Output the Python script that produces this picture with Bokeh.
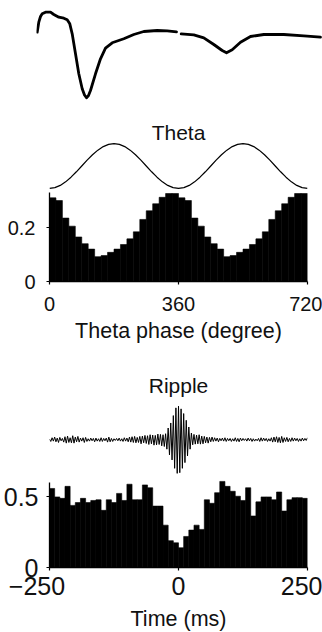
import numpy as np
from bokeh.plotting import figure
from bokeh.layouts import column
from bokeh.models import FixedTicker, Label, Range1d, Title
from bokeh.embed import file_html
from bokeh.resources import INLINE

FONT = "Liberation Sans"
INK = "#111111"

# ---------------- data ----------------
# average spike waveform, two segments (sample units, amplitude a.u.)
spike_a_x = [0.7, 2.3, 4.0, 5.7, 9.0, 14.0, 17.3, 22.3, 27.3, 30.7, 33.3, 35.7, 39.0,
             42.3, 45.7, 48.0, 50.0, 52.0, 54.0, 59.0, 64.0, 69.0, 75.7, 87.3, 97.3,
             107.3, 120.7, 130.7, 140.0]
spike_a_y = [-1.7, 8.3, 14.0, 16.7, 18.3, 18.3, 16.0, 13.3, 12.3, 10.7, 6.7, -3.3, -23.3,
             -43.3, -58.3, -64.5, -67.3, -65.0, -60.0, -43.3, -28.3, -17.7, -12.3, -8.3, -4.0,
             -1.0, 0.0, -0.3, -1.3]
spike_b_x = [144.7, 157.3, 167.3, 177.3, 185.7, 190.0, 195.7, 204.0, 214.0, 227.3, 247.3,
             267.3, 284.0]
spike_b_y = [-3.3, -4.3, -7.3, -14.0, -20.0, -22.3, -19.3, -11.7, -6.0, -4.0, -4.0,
             -5.3, -6.7]

# theta phase histogram (18-degree bins, one cycle, shown twice)
theta_bin_width = 18
theta_cycle_counts = [0.31, 0.30, 0.235, 0.205, 0.165, 0.14, 0.12, 0.092, 0.096, 0.108,
                      0.12, 0.137, 0.158, 0.184, 0.23, 0.262, 0.288, 0.312, 0.326, 0.326]
# schematic theta cycle, sampled every 15 degrees (one cycle, shown twice)
theta_wave_step = 15
theta_wave_cycle = [-1.0, -0.966, -0.866, -0.707, -0.5, -0.259, 0.0, 0.259, 0.5, 0.707,
                    0.866, 0.966, 1.0, 0.966, 0.866, 0.707, 0.5, 0.259, 0.0, -0.259,
                    -0.5, -0.707, -0.866, -0.966]
theta_ticks = [0, 360, 720]
theta_yticks = [0, 0.2]

# ripple-triggered histogram (10 ms bins, -250..250 ms)
ripple_bin_width = 10
ripple_counts = [0.56, 0.50, 0.49, 0.575, 0.44, 0.46, 0.49, 0.46, 0.475, 0.48,
                 0.405, 0.48, 0.46, 0.525, 0.475, 0.59, 0.48, 0.48, 0.585, 0.565,
                 0.435, 0.435, 0.30, 0.19, 0.175, 0.14, 0.22, 0.265, 0.30, 0.27,
                 0.48, 0.455, 0.53, 0.61, 0.575, 0.54, 0.505, 0.475, 0.565, 0.365,
                 0.465, 0.50, 0.50, 0.48, 0.535, 0.40, 0.48, 0.495, 0.495, 0.49]
# average ripple-band LFP trace, sampled every 2.5 ms from -250 to 250 ms (a.u.)
ripple_dt = 2.5
ripple_trace = [
    0.02, -0.05, 0.06, -0.04, 0.08, -0.06, 0.05, -0.08, 0.07, -0.03,
    0.04, -0.07, 0.09, -0.10, 0.11, -0.08, 0.06, -0.09, 0.12, -0.10,
    0.08, -0.06, 0.10, -0.07, 0.05, -0.04, 0.06, -0.08, 0.07, -0.05,
    0.03, -0.04, 0.05, -0.03, 0.04, -0.06, 0.05, -0.04, 0.03, -0.05,
    0.06, -0.05, 0.04, -0.03, 0.05, -0.07, 0.08, -0.06, 0.04, -0.05,
    0.03, -0.02, 0.04, -0.03, 0.05, -0.04, 0.03, -0.05, 0.06, -0.04,
    0.05, -0.06, 0.08, -0.07, 0.09, -0.08, 0.10, -0.09, 0.07, -0.08,
    0.10, -0.12, 0.11, -0.09, 0.13, -0.11, 0.12, -0.14, 0.15, -0.12,
    0.14, -0.16, 0.13, -0.15, 0.17, -0.14, 0.16, -0.18, 0.15, -0.20,
    0.18,
    -0.28, 0.35, -0.45, 0.50, -0.60, 0.72, -0.85, 0.95, -1.00, 1.00,
    -0.98, 0.92, -0.85, 0.78, -0.68, 0.58, -0.48, 0.38, -0.28, 0.20,
    -0.15, 0.16, -0.13, 0.14, -0.12, 0.15, -0.13, 0.11, -0.12, 0.10,
    -0.09, 0.08, -0.10, 0.07, -0.06, 0.08, -0.05, 0.06, -0.04, 0.05,
    -0.06, 0.04, -0.03, 0.05, -0.04, 0.06, -0.05, 0.04, -0.03, 0.04,
    -0.05, 0.03, -0.04, 0.06, -0.05, 0.04, -0.06, 0.05, -0.03, 0.04,
    -0.02, 0.03, -0.04, 0.05, -0.03, 0.04, -0.05, 0.03, -0.04, 0.02,
    -0.03, 0.04, -0.05, 0.06, -0.04, 0.05, -0.03, 0.04, -0.05, 0.03,
    -0.04, 0.06, -0.07, 0.08, -0.06, 0.09, -0.08, 0.07, -0.09, 0.10,
    -0.08, 0.06, -0.05, 0.07, -0.06, 0.04, -0.05, 0.06, -0.04, 0.05,
    -0.03, 0.04, -0.05, 0.03, -0.04, 0.05, -0.03, 0.04, -0.02, 0.06]
ripple_ticks = [-250, 0, 250]
ripple_yticks = [0, 0.5]

W = 322


def bare(fig):
    fig.grid.visible = False
    fig.outline_line_color = None
    fig.background_fill_color = None
    fig.border_fill_color = None


def style_axes(fig, tick_size):
    for ax in (fig.xaxis[0], fig.yaxis[0]):
        ax.axis_line_color = "black"
        ax.axis_line_width = 1.3
        ax.major_tick_line_color = "black"
        ax.major_tick_line_width = 1.2
        ax.major_tick_in = 0
        ax.major_tick_out = 3
        ax.minor_tick_line_color = None
        ax.major_label_text_font = FONT
        ax.major_label_text_font_size = tick_size
        ax.major_label_text_color = INK
        ax.axis_label_text_font = FONT
        ax.axis_label_text_font_size = "21.5px"
        ax.axis_label_text_font_style = "normal"
        ax.axis_label_text_color = INK


# ---------------- panel 1: spike waveform ----------------
p1 = figure(width=W, height=108, output_backend="svg", toolbar_location=None,
            x_range=Range1d(0, 286), y_range=Range1d(-78, 30),
            min_border_left=36, min_border_right=0, min_border_top=0, min_border_bottom=0)
p1.frame_align = False
bare(p1)
p1.axis.visible = False
p1.line(spike_a_x, spike_a_y, line_color="black", line_width=2.8, line_join="round", line_cap="round")
p1.line(spike_b_x, spike_b_y, line_color="black", line_width=2.8, line_join="round", line_cap="round")

# ---------------- panel 2: theta ----------------
p2 = figure(width=W, height=250, output_backend="svg", toolbar_location=None,
            x_range=Range1d(0, 720), y_range=Range1d(0, 0.604),
            min_border_left=49, min_border_right=15, min_border_top=10, min_border_bottom=77)
bare(p2)
theta_counts = theta_cycle_counts + theta_cycle_counts
theta_centers = [theta_bin_width * (i + 0.5) for i in range(len(theta_counts))]
p2.vbar(x=theta_centers, width=theta_bin_width, top=theta_counts, bottom=0,
        fill_color="black", line_color="black", line_width=0.6)
theta_wave = theta_wave_cycle + theta_wave_cycle + [theta_wave_cycle[0]]
theta_wave_x = [theta_wave_step * i for i in range(len(theta_wave))]
wave_mid, wave_amp = 0.428, 0.083
p2.line(theta_wave_x, [wave_mid + wave_amp * v for v in theta_wave],
        line_color="black", line_width=1.2)
p2.add_layout(Label(x=360, y=0.552, text="Theta", text_align="center", text_baseline="middle",
                    text_font=FONT, text_font_size="21px", text_color=INK))
style_axes(p2, "20px")
p2.xaxis.ticker = FixedTicker(ticks=theta_ticks)
p2.xaxis.bounds = (0, 720)
p2.xaxis.major_label_standoff = 12
p2.xaxis.axis_label = "Theta phase (degree)"
p2.yaxis.ticker = FixedTicker(ticks=theta_yticks)
p2.yaxis.bounds = (0, 0.33)
p2.yaxis.major_label_standoff = 11

# ---------------- panel 3: ripple ----------------
p3 = figure(width=W, height=274, output_backend="svg", toolbar_location=None,
            x_range=Range1d(-250, 250), y_range=Range1d(0, 1.41),
            min_border_left=49, min_border_right=15, min_border_top=10, min_border_bottom=63)
bare(p3)
ripple_centers = [-250 + ripple_bin_width * (i + 0.5) for i in range(len(ripple_counts))]
p3.vbar(x=ripple_centers, width=ripple_bin_width, top=ripple_counts, bottom=0,
        fill_color="black", line_color="black", line_width=0.6)
ripple_t = [-250 + ripple_dt * i for i in range(len(ripple_trace))]
trace_mid, trace_amp = 0.905, 0.238
p3.line(ripple_t, [trace_mid + trace_amp * v for v in ripple_trace],
        line_color="black", line_width=1.0)
p3.add_layout(Label(x=0, y=1.29, text="Ripple", text_align="center", text_baseline="middle",
                    text_font=FONT, text_font_size="21px", text_color=INK))
style_axes(p3, "25px")
p3.xaxis.ticker = FixedTicker(ticks=ripple_ticks)
p3.xaxis.major_label_overrides = {-250: "\u2212250\u2002\u2002", 0: "0", 250: "\u2002250"}
p3.xaxis.bounds = (-250, 250)
p3.xaxis.major_label_standoff = 1
p3.yaxis.ticker = FixedTicker(ticks=ripple_yticks)
p3.yaxis.bounds = (0, 0.6)
p3.yaxis.major_label_standoff = 8
p3.add_layout(Title(text="Time (ms)", align="center", standoff=4, text_font=FONT,
                    text_font_size="21.5px", text_font_style="normal", text_color=INK), "below")

layout = column(p1, p2, p3, spacing=0)
open("out.html", "w").write(file_html(layout, INLINE))
